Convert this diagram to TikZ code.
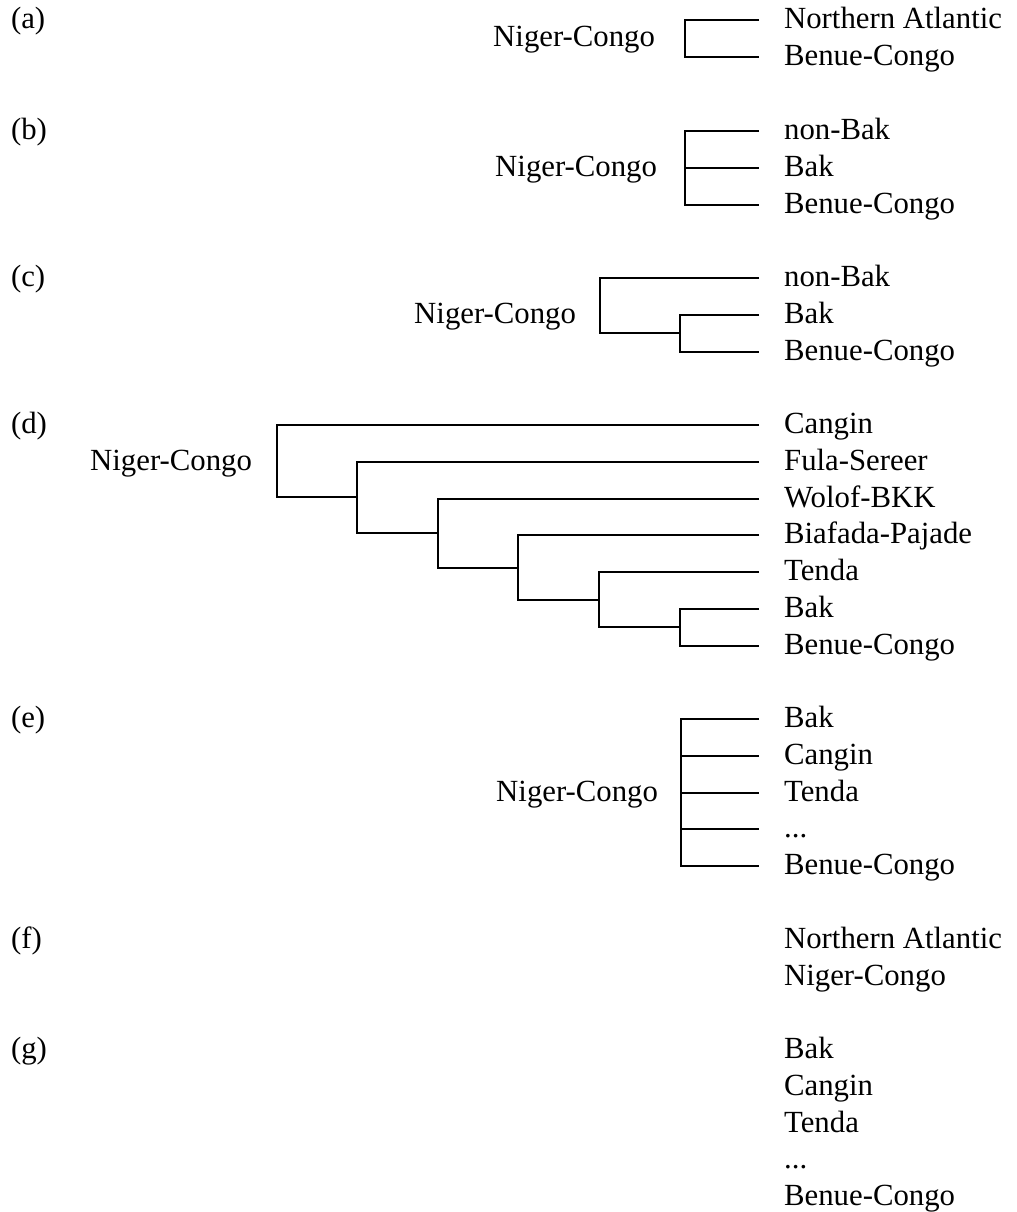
\documentclass[tikz,border=0pt]{standalone}
\usepackage{fontspec}
\setmainfont{Liberation Serif}
\usepackage{xcolor}

\begin{document}
\begin{tikzpicture}[x=0.39pt,y=-0.39pt,line width=0.8pt,
  font=\fontsize{12}{14.4}\selectfont,
  tag/.style={anchor=west,inner sep=0pt,text height=0.66em,text depth=0pt},
  clade/.style={anchor=east,inner sep=0pt,text height=0.66em,text depth=0pt},
  leaf/.style={anchor=west,inner xsep=9.4pt,inner ysep=0pt,text height=0.66em,text depth=0pt}]

\useasboundingbox (0,0) rectangle (1016,1212);


% a
\node[tag] (TagA) at (10,20) {(a)};
\node[clade] (RootA) at (656,38.4) {Niger-Congo};

\node[leaf] (LeafA1) at (759,20) {Northern Atlantic};
\node[leaf] (LeafA2) at (759,56.8) {Benue-Congo};

\coordinate (ForkA) at (685,38.4);
\draw (LeafA1.west) -| (ForkA) |- (LeafA2.west);


% b
\node[tag] (TagB) at (10,131) {(b)};
\node[clade] (RootB) at (658,167.8) {Niger-Congo};

\node[leaf] (LeafB1) at (759,131) {non-Bak};
\node[leaf] (LeafB2) at (759,167.8) {Bak};
\node[leaf] (LeafB3) at (759,204.6) {Benue-Congo};

\coordinate (ForkB) at (685,167.8);
\draw (LeafB1.west) -| (ForkB) |- (LeafB3.west);
\draw (ForkB) -- (LeafB2.west);


% c
\node[tag] (TagC) at (10,278) {(c)};
\node[clade] (RootC) at (577,314.8) {Niger-Congo};

\node[leaf] (LeafC1) at (759,278) {non-Bak};
\node[leaf] (LeafC2) at (759,314.8) {Bak};
\node[leaf] (LeafC3) at (759,351.6) {Benue-Congo};

\coordinate (ForkC1) at (600,305.6);
\coordinate (ForkC2) at (680,333.2);
\draw (LeafC1.west) -| (ForkC1) |- (ForkC2);
\draw (LeafC2.west) -| (ForkC2) |- (LeafC3.west);


% d
\node[tag] (TagD) at (10,425) {(d)};
\node[clade] (RootD) at (253,461.8) {Niger-Congo};

\node[leaf] (LeafD1) at (759,425) {Cangin};
\node[leaf] (LeafD2) at (759,461.8) {Fula-Sereer};
\node[leaf] (LeafD3) at (759,498.6) {Wolof-BKK};
\node[leaf] (LeafD4) at (759,535.4) {Biafada-Pajade};
\node[leaf] (LeafD5) at (759,572.2) {Tenda};
\node[leaf] (LeafD6) at (759,609) {Bak};
\node[leaf] (LeafD7) at (759,645.8) {Benue-Congo};

\coordinate (ForkD1) at (277,461.2);
\coordinate (ForkD2) at (357,497.4);
\coordinate (ForkD3) at (438,533.1);
\coordinate (ForkD4) at (518,567.6);
\coordinate (ForkD5) at (599,599.8);
\coordinate (ForkD6) at (680,627.4);

\draw (LeafD1.west) -| (ForkD1) |- (ForkD2);
\draw (LeafD2.west) -| (ForkD2) |- (ForkD3);
\draw (LeafD3.west) -| (ForkD3) |- (ForkD4);
\draw (LeafD4.west) -| (ForkD4) |- (ForkD5);
\draw (LeafD5.west) -| (ForkD5) |- (ForkD6);
\draw (LeafD6.west) -| (ForkD6) |- (LeafD7.west);


% e
\node[tag] (TagE) at (10,719) {(e)};
\node[clade] (RootE) at (659,792.6) {Niger-Congo};

\node[leaf] (LeafE1) at (759,719) {Bak};
\node[leaf] (LeafE2) at (759,755.8) {Cangin};
\node[leaf] (LeafE3) at (759,792.6) {Tenda};
\node[leaf] (LeafE4) at (759,829.4) {...};
\node[leaf] (LeafE5) at (759,866.2) {Benue-Congo};

\coordinate (ForkE) at (681,792.6);
\draw (LeafE1.west) -| (ForkE) |- (LeafE5.west);
\draw (ForkE |- LeafE2.west) -- (LeafE2.west);
\draw (ForkE) -- (LeafE3.west);
\draw (ForkE |- LeafE4.west) -- (LeafE4.west);


% f
\node[tag] (TagF) at (10,940) {(f)};

\node[leaf] (LeafF1) at (759,940) {Northern Atlantic};
\node[leaf] (LeafF2) at (759,976.8) {Niger-Congo};


% g
\node[tag] (TagG) at (10,1050) {(g)};

\node[leaf] (LeafG1) at (759,1050) {Bak};
\node[leaf] (LeafG2) at (759,1086.8) {Cangin};
\node[leaf] (LeafG3) at (759,1123.6) {Tenda};
\node[leaf] (LeafG4) at (759,1160.4) {...};
\node[leaf] (LeafG5) at (759,1197.2) {Benue-Congo};


\end{tikzpicture}
\end{document}
